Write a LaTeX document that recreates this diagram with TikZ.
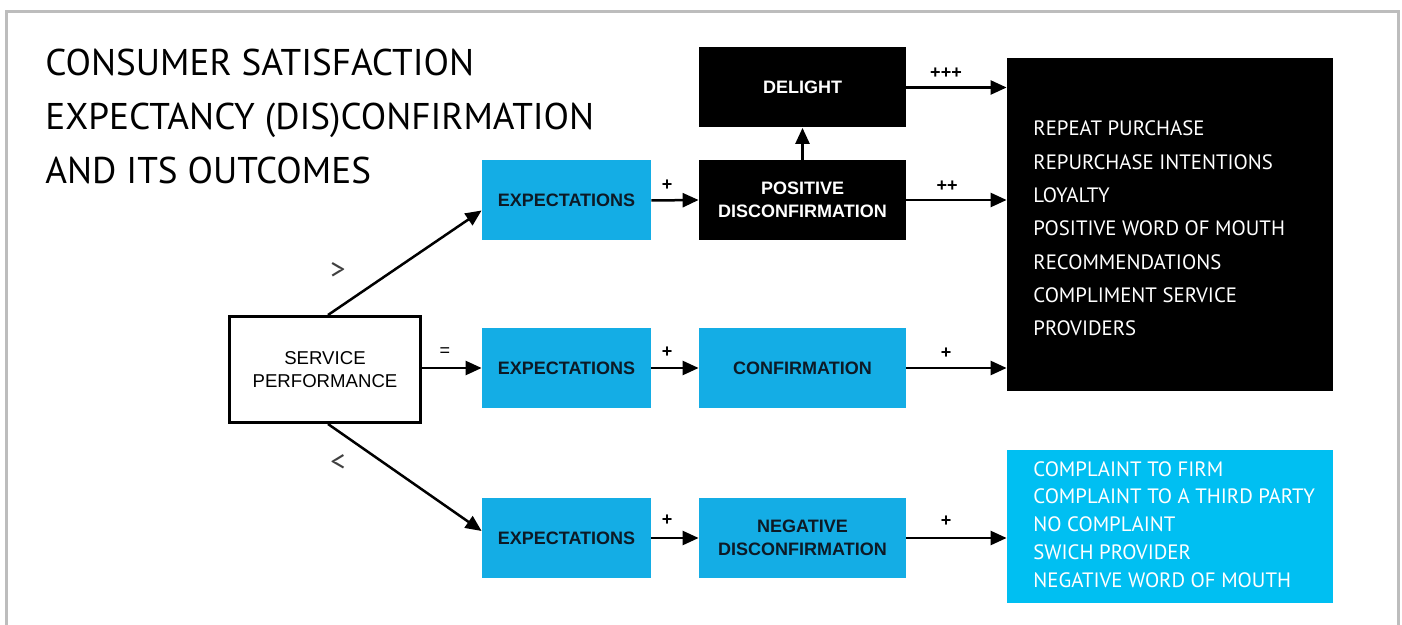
\documentclass[tikz,border=0pt]{standalone}
\usepackage{fontspec}
\setmainfont{PT Sans}
\newfontfamily\boxfont{Liberation Sans}
\usetikzlibrary{arrows.meta,calc}
\definecolor{expblue}{HTML}{14ADE5}
\definecolor{outblue}{HTML}{00BFF2}
\definecolor{expdark}{HTML}{0D1A26}
\definecolor{framegray}{HTML}{BDBDBD}
\begin{document}
\begin{tikzpicture}[x=0.5pt,y=-0.5pt,
  box/.style={minimum width=103.5pt, minimum height=40pt, inner sep=0pt, align=center,
    font=\boxfont\bfseries\fontsize{9}{11.5}\selectfont},
  expbox/.style={box, fill=expblue, text=expdark, minimum width=84.5pt},
  blackbox/.style={box, fill=black, text=white},
  conn/.style={line width=1.25pt, -{Triangle[length=8pt,width=7pt]}},
  sign/.style={font=\boxfont\bfseries\fontsize{9}{10}\selectfont, inner sep=0pt},
  cmp/.style={font=\fontsize{15}{16}\selectfont, text=black!75, inner sep=0pt},
  outtext/.style={anchor=west, align=left, text=white, inner sep=0pt}]
\useasboundingbox (0,0) rectangle (1402,625);
\fill[white] (0,0) rectangle (1402,625);
\draw[framegray, line width=1.5pt] (6,640) -- (6,12) -- (1398,12) -- (1398,640);

% title
\node[anchor=west, align=left, inner sep=0pt, font=\fontsize{18.6}{27}\selectfont] (title) at (45,116)
  {CONSUMER SATISFACTION\\EXPECTANCY (DIS)CONFIRMATION\\AND ITS OUTCOMES};

% boxes
\node[blackbox] (delight) at (802.5,87.5) {DELIGHT};
\node[blackbox] (posdis) at (802.5,200) {POSITIVE\\DISCONFIRMATION};
\node[expbox] (exp1) at (566.5,200.5) {EXPECTATIONS};
\node[box, draw=black, line width=1.5pt, fill=white, text=black, minimum width=95.5pt, minimum height=53pt,
  font=\boxfont\fontsize{9.3}{11.5}\selectfont] (serv) at (325,369.5) {SERVICE\\PERFORMANCE};
\node[expbox] (exp2) at (566.5,368) {EXPECTATIONS};
\node[expbox] (conf) at (802.5,368) [minimum width=103.5pt] {CONFIRMATION};
\node[expbox] (exp3) at (566.5,538) {EXPECTATIONS};
\node[expbox] (negdis) at (802.5,538) [minimum width=103.5pt] {NEGATIVE\\DISCONFIRMATION};

% outcome boxes
\node[fill=black, minimum width=163pt, minimum height=166.5pt, inner sep=0pt] (outpos) at (1170,224.5) {};
\node[fill=outblue, minimum width=163pt, minimum height=76.5pt, inner sep=0pt] (outneg) at (1170,526.5) {};
\node[outtext, font=\fontsize{10.4}{16.65}\selectfont] (postext) at (1033,228.5)
  {REPEAT PURCHASE\\REPURCHASE INTENTIONS\\LOYALTY\\POSITIVE WORD OF MOUTH\\RECOMMENDATIONS\\COMPLIMENT SERVICE\\PROVIDERS};
\node[outtext, font=\fontsize{10.4}{13.9}\selectfont] (negtext) at (1033,524.5)
  {COMPLAINT TO FIRM\\COMPLAINT TO A THIRD PARTY\\NO COMPLAINT\\SWICH PROVIDER\\NEGATIVE WORD OF MOUTH};

% connectors
\draw[conn] ([xshift=1.5pt]serv.north) -- ([yshift=-5pt]exp1.west);
\draw[conn] (serv.east |- exp2.west) -- (exp2.west);
\draw[conn] ([xshift=1.5pt]serv.south) -- ([yshift=3.5pt]exp3.west);
\draw[conn] (exp1.east) -- (posdis.west);
\draw[conn] (exp2.east) -- (conf.west);
\draw[conn] (exp3.east) -- (negdis.west);
\draw[conn] (posdis.north) -- (delight.south);
\draw[conn] (delight.east) -- (delight.east -| outpos.west);
\draw[conn] (posdis.east) -- (posdis.east -| outpos.west);
\draw[conn] (conf.east) -- (conf.east -| outpos.west);
\draw[conn] (negdis.east) -- (negdis.east -| outneg.west);

% signs
\node[cmp] (gt) at (338,271) {>};
\node[cmp] (lt) at (338,463) {<};
\node[sign, font=\boxfont\fontsize{9}{10}\selectfont] (eq) at (445,352) {=};
\node[sign] (p1) at (667,185) {+};
\node[sign] (p2) at (667,352) {+};
\node[sign] (p3) at (667,520) {+};
\node[sign] (p4) at (946,73) {+++};
\node[sign] (p5) at (947,186) {++};
\node[sign] (p6) at (946,353) {+};
\node[sign] (p7) at (946,521) {+};
\end{tikzpicture}
\end{document}
